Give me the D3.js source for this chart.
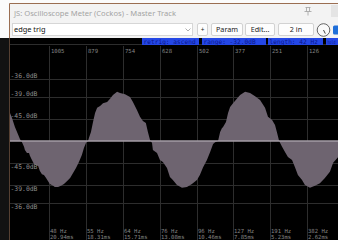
<!DOCTYPE html>
<html lang="en">

<head>
  <meta charset="utf-8">
  <title>JS: Oscilloscope Meter</title>
  <script src="https://cdnjs.cloudflare.com/ajax/libs/d3/7.8.5/d3.min.js"></script>
  <style type="text/css">
    body { margin: 0; background: #fff; }
    svg { display: block; }
    .ui { font-family: "Noto Sans", "Liberation Sans", sans-serif; }
    .mono { font-family: "DejaVu Sans Mono", "Liberation Mono", monospace; }
    .grid { stroke: #2d2d2d; stroke-width: 1; shape-rendering: crispEdges; }
  </style>
</head>

<body>
  <script>
    var w = 338;
    var h = 240;

    // window chrome texts
    var title = 'JS: Oscilloscope Meter (Cockos) - Master Track';
    var preset = 'edge trig';
    var buttons = ['+', 'Param', 'Edit...', '2 in'];
    var statusLabels = ['retrig: ascend', 'range: -32.0dB', 'length: 42 Hz', 'hold'];

    // time axis: samples back from now
    var tickSamples = [1005, 879, 754, 628, 502, 377, 251, 126];
    var freqLabels = ['48 Hz', '55 Hz', '64 Hz', '76 Hz', '96 Hz', '127 Hz', '191 Hz', '382 Hz'];
    var msLabels = ['20.94ms', '18.31ms', '15.71ms', '13.08ms', '10.46ms', '7.85ms', '5.23ms', '2.62ms'];

    // amplitude axis
    var rangeDb = -32;
    var dbLevels = [-36, -39, -45];

    // waveform, samples back / amplitude (x 0.001 of full scale)
    var waveSamples = [1141, 1138, 1131, 1121, 1111, 1104, 1097, 1090, 1087, 1080, 1073, 1070, 1063, 1056, 1049, 1042,
      1036, 1029, 1022, 1015, 1008, 1002, 991, 985, 974, 964, 954, 944, 933, 923, 913, 903, 893, 886, 879, 872, 869,
      862, 855, 848, 841, 831, 821, 807, 797, 787, 773, 763, 746, 729, 719, 705, 695, 685, 675, 668, 661, 654, 651,
      637, 627, 617, 603, 593, 583, 569, 552, 535, 518, 501, 491, 480, 467, 456, 446, 439, 429, 422, 416, 412, 402,
      395, 388, 378, 365, 354, 337, 320, 303, 286, 269, 259, 245, 235, 228, 221, 211, 201, 191, 177, 167, 157, 143,
      133, 116, 99, 82, 65, 48, 37, 20, 0];
    var waveAmp = [7.9, 7.2, 5.9, 3.6, 1.8, 0.5, -0.3, -1.5, -2.3, -3.1, -3.1, -3.8, -4.9, -5.9, -6.2, -6.4,
      -7.7, -8.5, -8.7, -9.5, -10.3, -11.0, -11.5, -11.8, -11.8, -11.5, -11.0, -10.3, -9.5, -8.2, -6.9, -5.4, -3.6, -1.8, -0.5, 0, 0.8,
      2.3, 4.9, 7.2, 8.5, 9.0, 9.7, 10.0, 10.8, 11.8, 12.6, 12.3, 12.0, 11.3, 10.0, 7.9, 6.2, 5.1, 4.6, 2.3, 0.3, -0.5, -2.3,
      -3.1, -4.9, -5.4, -6.9, -9.2, -10.0, -11.3, -12.0, -11.8, -11.0, -10.0, -8.7, -6.7, -4.9, -2.8, -0.8, -0.3, 0, 2.3, 3.3, 3.6, 4.9,
      7.2, 8.7, 9.7, 10.8, 11.8, 12.6, 12.3, 11.5, 10.5, 8.5, 6.2, 5.4, 4.1, 2.1, 0, -1.5, -2.8, -4.1, -4.9, -6.7, -8.7, -10.0,
      -11.3, -12.0, -11.5, -10.8, -9.5, -7.9, -5.6, -4.1, -1.8];

    var wave = waveSamples.map(function (s, i) {
      return { s: s, a: waveAmp[i] / 1000 };
    });

    var fullScale = Math.pow(10, rangeDb / 20);
    var scopeTop = 38;
    var scopeLeft = 9.5;

    var xScale = d3.scaleLinear().domain([1131, 0]).range([12, 344]);
    var yScale = d3.scaleLinear().domain([-fullScale, fullScale]).range([239, 43]);

    var svg = d3.select('body')
      .append('svg')
      .attr('width', w)
      .attr('height', h);

    // ---- window chrome ----
    svg.append('rect').attr('width', w).attr('height', h).attr('fill', '#fbfbfb');
    svg.append('rect').attr('x', scopeLeft).attr('y', 3.5).attr('width', w).attr('height', scopeTop - 3.5)
      .attr('fill', '#f3f3f3');

    svg.append('text').attr('class', 'ui')
      .attr('x', 14).attr('y', 16)
      .attr('font-size', 7.6).attr('fill', '#a3a3a3')
      .text(title);

    // pin icon
    var pin = svg.append('g').attr('stroke', '#a0a0a0').attr('fill', 'none').attr('stroke-width', 0.8);
    pin.append('path').attr('d', 'M305.5,7.5 h5 M306.5,7.5 v4 M309.5,7.5 v4 M304.5,11.5 h7 M308,11.5 v4');
    svg.append('rect').attr('x', 331).attr('y', 5).attr('width', 10).attr('height', 12).attr('fill', '#e4e4e4');

    // preset dropdown
    svg.append('rect').attr('x', 12.5).attr('y', 23.5).attr('width', 180).attr('height', 12)
      .attr('fill', '#fff').attr('stroke', '#d6d6d6');
    svg.append('text').attr('class', 'ui')
      .attr('x', 14).attr('y', 32.3).attr('font-size', 7.4).attr('fill', '#111')
      .text(preset);
    svg.append('path').attr('d', 'M185.5,28.5 l2.5,2.5 l2.5,-2.5')
      .attr('stroke', '#9a9a9a').attr('fill', 'none').attr('stroke-width', 0.8);

    var btnX = [197.5, 211.5, 245.5, 278.5];
    var btnW = [10, 31, 29, 35];
    buttons.forEach(function (b, i) {
      svg.append('rect').attr('x', btnX[i]).attr('y', 23.5).attr('width', btnW[i]).attr('height', 12).attr('rx', 1.5)
        .attr('fill', '#fdfdfd').attr('stroke', '#d2d2d2');
      svg.append('text').attr('class', 'ui')
        .attr('x', btnX[i] + btnW[i] / 2).attr('y', 32.3)
        .attr('text-anchor', 'middle').attr('font-size', i === 0 ? 6.5 : 7.2).attr('fill', '#222')
        .text(b);
    });

    // knob + checkbox
    svg.append('circle').attr('cx', 323.5).attr('cy', 30).attr('r', 6.3)
      .attr('fill', '#fafafa').attr('stroke', '#555').attr('stroke-width', 0.9);
    svg.append('path').attr('d', 'M323.5,30 l1.8,3.6').attr('stroke', '#444').attr('stroke-width', 1);
    svg.append('rect').attr('x', 333).attr('y', 25.5).attr('width', 9).attr('height', 9).attr('rx', 1.5)
      .attr('fill', '#1f6fd9');

    // window frame
    svg.append('path').attr('d', 'M' + scopeLeft + ',' + h + ' V3.5 H' + w)
      .attr('stroke', '#9a6e52').attr('fill', 'none').attr('stroke-width', 1);

    // ---- scope ----
    svg.append('rect').attr('x', 0).attr('y', scopeTop).attr('width', scopeLeft).attr('height', h - scopeTop)
      .attr('fill', '#121212');
    svg.append('rect').attr('x', scopeLeft + 0.5).attr('y', scopeTop).attr('width', w).attr('height', h - scopeTop)
      .attr('fill', '#000');

    svg.append('clipPath').attr('id', 'scope')
      .append('rect').attr('x', scopeLeft + 0.5).attr('y', scopeTop).attr('width', w).attr('height', h - scopeTop);

    var scope = svg.append('g').attr('clip-path', 'url(#scope)');

    // horizontal grid at dB levels
    var hLevels = [fullScale * 0.985];
    dbLevels.forEach(function (d) {
      var a = Math.pow(10, d / 20);
      hLevels.push(a, -a);
    });
    scope.selectAll('.hgrid')
      .data(hLevels)
      .enter().append('line')
      .attr('class', 'grid')
      .attr('x1', scopeLeft).attr('x2', w)
      .attr('y1', d => Math.round(yScale(d)) + 0.5)
      .attr('y2', d => Math.round(yScale(d)) + 0.5);

    // vertical grid
    scope.selectAll('.vgrid')
      .data(tickSamples)
      .enter().append('line')
      .attr('class', 'grid')
      .attr('x1', d => Math.round(xScale(d)) + 0.5)
      .attr('x2', d => Math.round(xScale(d)) + 0.5)
      .attr('y1', 46).attr('y2', h);

    // waveform
    var area = d3.area()
      .x(d => xScale(d.s))
      .y0(yScale(0))
      .y1(d => yScale(d.a));

    scope.append('path')
      .datum(wave)
      .attr('fill', '#6e6470')
      .attr('d', area);

    // centre line
    scope.append('line')
      .attr('x1', scopeLeft).attr('x2', w)
      .attr('y1', yScale(0)).attr('y2', yScale(0))
      .attr('stroke', '#a49ca6').attr('stroke-width', 1.3);

    // dB labels: above the line on top half, below it on bottom half
    dbLevels.forEach(function (d) {
      var a = Math.pow(10, d / 20);
      [a, -a].forEach(function (v) {
        scope.append('text').attr('class', 'mono')
          .attr('x', 10.5)
          .attr('y', v > 0 ? yScale(v) - 1.5 : yScale(v) + 6.5)
          .attr('font-size', 6.4).attr('fill', '#8c8c8c')
          .text(d.toFixed(1) + 'dB');
      });
    });

    // sample labels on top
    scope.selectAll('.tlabel')
      .data(tickSamples)
      .enter().append('text')
      .attr('class', 'mono')
      .attr('x', d => Math.round(xScale(d)) + 2)
      .attr('y', 53)
      .attr('font-size', 5.6).attr('fill', '#858585')
      .text(d => d);

    // frequency / period labels at bottom
    scope.selectAll('.flabel')
      .data(tickSamples)
      .enter().append('text')
      .attr('class', 'mono')
      .attr('x', d => Math.round(xScale(d)) + 1)
      .attr('y', 233)
      .attr('font-size', 5.6).attr('fill', '#858585')
      .text((d, i) => freqLabels[i]);
    scope.selectAll('.mlabel')
      .data(tickSamples)
      .enter().append('text')
      .attr('class', 'mono')
      .attr('x', d => Math.round(xScale(d)) + 1)
      .attr('y', 238.5)
      .attr('font-size', 5.6).attr('fill', '#858585')
      .text((d, i) => msLabels[i]);

    // status boxes
    var statX = [142, 202, 268, 326];
    var statW = [57, 64, 55, 12];
    statusLabels.forEach(function (s, i) {
      svg.append('rect').attr('x', statX[i]).attr('y', 38).attr('width', statW[i]).attr('height', 7)
        .attr('fill', '#2447e6');
      var t = svg.append('text').attr('class', 'mono')
        .attr('x', statX[i] + 1.5).attr('y', 44)
        .attr('font-size', 6.2).attr('fill', '#0a168a')
        .text(s);
      if (i === statusLabels.length - 1) {
        t.attr('font-size', 5).attr('textLength', 8).attr('lengthAdjust', 'spacingAndGlyphs');
      }
    });
  </script>
</body>

</html>
